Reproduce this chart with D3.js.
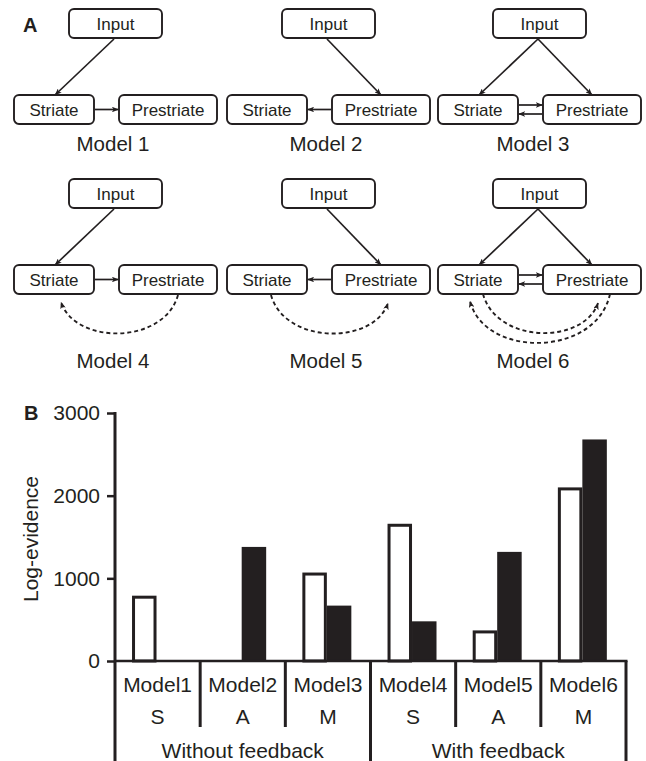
<!DOCTYPE html>
<html>
<head>
<meta charset="utf-8">
<script src="https://cdn.jsdelivr.net/npm/d3@7"></script>
<style>
  html, body { margin: 0; padding: 0; background: #fff; }
  svg { display: block; }
  text { font-family: "Liberation Sans", Arial, Helvetica, sans-serif; fill: #231f20; }
</style>
</head>
<body>
<svg id="chart" width="646" height="761"></svg>
<script>
// ---------- Data ----------
const models = ["Model1", "Model2", "Model3", "Model4", "Model5", "Model6"];
const modelTypes = ["S", "A", "M", "S", "A", "M"];
const feedbackGroups = ["Without feedback", "With feedback"];
const whiteValues = [790, 0, 1070, 1660, 370, 2100];   // open bars
const blackValues = [0, 1380, 670, 480, 1320, 2680];   // filled bars
const yTicks = [0, 1000, 2000, 3000];
const diagramTitles = ["Model 1", "Model 2", "Model 3", "Model 4", "Model 5", "Model 6"];
const nodeNames = ["Input", "Striate", "Prestriate"];
// forward input targets, lateral connections, feedback (dashed) connections
const inputTargets = [["Striate"], ["Prestriate"], ["Striate", "Prestriate"],
                      ["Striate"], ["Prestriate"], ["Striate", "Prestriate"]];
const lateral = [["S>P"], ["P>S"], ["S>P", "P>S"], ["S>P"], ["P>S"], ["S>P", "P>S"]];
const feedback = [[], [], [], ["P>S"], ["S>P"], ["P>S", "S>P"]];

const ink = "#231f20";
const svg = d3.select("#chart");

// ---------- Markers ----------
const defs = svg.append("defs");
defs.append("marker")
  .attr("id", "arrow").attr("viewBox", "0 0 10 8")
  .attr("refX", 9.5).attr("refY", 4)
  .attr("markerWidth", 7).attr("markerHeight", 5.6)
  .attr("markerUnits", "userSpaceOnUse")
  .attr("orient", "auto")
  .append("path").attr("d", "M0,0 L10,4 L0,8 L2.5,4 Z").attr("fill", ink);

// ---------- Panel A : diagrams ----------
const colX = [14, 227, 438];
const rowY = [0, 170];
const titleX = [113, 326, 533];
const titleY = [151, 368];
const boxes = {
  Input: { x: 55, y: 9, w: 93, h: 29 },
  Striate: { x: 0, y: 95, w: 80, h: 29 },
  Prestriate: { x: 105, y: 95, w: 98, h: 29 }
};

const gA = svg.append("g");
gA.append("text").text("A").attr("x", 23).attr("y", 32)
  .attr("font-size", 20).attr("font-weight", "bold");

diagramTitles.forEach((title, i) => {
  const cx = colX[i % 3], cy = rowY[Math.floor(i / 3)];
  const g = gA.append("g").attr("transform", `translate(${cx},${cy})`);

  // input arrows
  inputTargets[i].forEach(t => {
    const end = t === "Striate" ? [41, 95] : [154, 95];
    g.append("line").attr("x1", 100).attr("y1", 39).attr("x2", end[0]).attr("y2", end[1])
      .attr("stroke", ink).attr("stroke-width", 1.7).attr("marker-end", "url(#arrow)");
  });

  // lateral arrows
  const both = lateral[i].length === 2;
  lateral[i].forEach(c => {
    const y = both ? (c === "S>P" ? 105 : 114) : 109.5;
    const [x1, x2] = c === "S>P" ? [81, 104.5] : [104, 80.5];
    g.append("line").attr("x1", x1).attr("y1", y).attr("x2", x2).attr("y2", y)
      .attr("stroke", ink).attr("stroke-width", 1.7).attr("marker-end", "url(#arrow)");
  });

  // feedback (dashed) arcs
  feedback[i].forEach(c => {
    let p0, p3, cyc;
    if (c === "P>S") {
      if (feedback[i].length === 2) { p0 = [172, 124]; p3 = [32, 131]; cyc = 188; }
      else { p0 = [164, 125]; p3 = [47, 132]; cyc = 175; }
    } else {
      if (feedback[i].length === 2) { p0 = [45, 124]; p3 = [160, 133]; cyc = 174.5; }
      else { p0 = [44, 125]; p3 = [161, 133]; cyc = 175; }
    }
    const dir = p3[0] > p0[0] ? 1 : -1;
    const path = d3.path();
    path.moveTo(p0[0], p0[1]);
    path.bezierCurveTo(p0[0] + dir * 14, cyc, p3[0] - dir * 14, cyc, p3[0], p3[1]);
    g.append("path").attr("d", path.toString()).attr("fill", "none")
      .attr("stroke", ink).attr("stroke-width", 1.9).attr("stroke-dasharray", "4,3")
      .attr("marker-end", "url(#arrow)");
  });

  // boxes
  nodeNames.forEach(n => {
    const b = boxes[n];
    g.append("rect").attr("x", b.x).attr("y", b.y).attr("width", b.w).attr("height", b.h)
      .attr("rx", 5).attr("ry", 5).attr("fill", "#fff")
      .attr("stroke", ink).attr("stroke-width", 1.9);
    g.append("text").text(n).attr("x", b.x + b.w / 2).attr("y", b.y + b.h / 2 + 6)
      .attr("text-anchor", "middle").attr("font-size", 17);
  });

  gA.append("text").text(title).attr("x", titleX[i % 3]).attr("y", titleY[Math.floor(i / 3)])
    .attr("text-anchor", "middle").attr("font-size", 20.5);
});

// ---------- Panel B : bar chart ----------
const x0 = 115, x1 = 626, yTop = 413, yZero = 661, bottom = 761;
const x = d3.scaleBand().domain(models).range([x0, x1]).padding(0);
const bw = x.bandwidth();
const sub = d3.scaleBand().domain(["white", "black"]).range([bw * 0.2, bw * 0.775]).padding(0);
const y = d3.scaleLinear().domain([0, 3000]).range([yZero, yTop]);

const gB = svg.append("g");
gB.append("text").text("B").attr("x", 24).attr("y", 420)
  .attr("font-size", 20).attr("font-weight", "bold");

// bars
const sw = 3;
gB.selectAll("rect.white").data(models.map((m, i) => ({ m, v: whiteValues[i] })).filter(d => d.v > 0))
  .join("rect").attr("class", "white")
  .attr("x", d => x(d.m) + sub("white") + sw / 2)
  .attr("y", d => y(d.v) + sw / 2)
  .attr("width", sub.bandwidth() - sw)
  .attr("height", d => y(0) - y(d.v) - sw / 2)
  .attr("fill", "#fff").attr("stroke", ink).attr("stroke-width", sw);

gB.selectAll("rect.black").data(models.map((m, i) => ({ m, v: blackValues[i] })).filter(d => d.v > 0))
  .join("rect").attr("class", "black")
  .attr("x", d => x(d.m) + sub("black"))
  .attr("y", d => y(d.v))
  .attr("width", sub.bandwidth())
  .attr("height", d => y(0) - y(d.v))
  .attr("fill", ink);

// y axis
const yAxis = d3.axisLeft(y).tickValues(yTicks).tickSize(8).tickPadding(7).tickFormat(d3.format("d"));
const ga = gB.append("g").attr("transform", `translate(${x0},0)`).call(yAxis);
ga.select(".domain").remove();
ga.selectAll(".tick line").attr("stroke", ink).attr("stroke-width", 2.5);
ga.selectAll(".tick text").attr("font-size", 21).attr("fill", ink)
  .attr("font-family", "'Liberation Sans', Arial, Helvetica, sans-serif");

gB.append("line").attr("x1", x0).attr("x2", x0).attr("y1", yTop - 1).attr("y2", bottom)
  .attr("stroke", ink).attr("stroke-width", 3);

// zero line
gB.append("line").attr("x1", x0).attr("x2", x1 + 1.5).attr("y1", yZero).attr("y2", yZero)
  .attr("stroke", ink).attr("stroke-width", 2.5);

// y label
gB.append("text").text("Log-evidence")
  .attr("transform", `translate(38,${(yTop + yZero) / 2 + 2}) rotate(-90)`)
  .attr("text-anchor", "middle").attr("font-size", 21);

// category separators
models.forEach((m, i) => {
  const xr = x(m) + bw;
  const full = (i === 2 || i === 5);
  gB.append("line").attr("x1", xr).attr("x2", xr).attr("y1", yZero)
    .attr("y2", full ? bottom : 727)
    .attr("stroke", ink).attr("stroke-width", 3);
});

// category labels
gB.selectAll("text.model").data(models).join("text").attr("class", "model")
  .text(d => d).attr("x", d => x(d) + bw / 2).attr("y", 692)
  .attr("text-anchor", "middle").attr("font-size", 21);
gB.selectAll("text.type").data(models).join("text").attr("class", "type")
  .text((d, i) => modelTypes[i]).attr("x", d => x(d) + bw / 2).attr("y", 724)
  .attr("text-anchor", "middle").attr("font-size", 21);
gB.selectAll("text.fb").data(feedbackGroups).join("text").attr("class", "fb")
  .text(d => d)
  .attr("x", (d, i) => (x(models[i * 3]) + x(models[i * 3 + 2]) + bw) / 2)
  .attr("y", 758)
  .attr("text-anchor", "middle").attr("font-size", 21);
</script>
</body>
</html>
